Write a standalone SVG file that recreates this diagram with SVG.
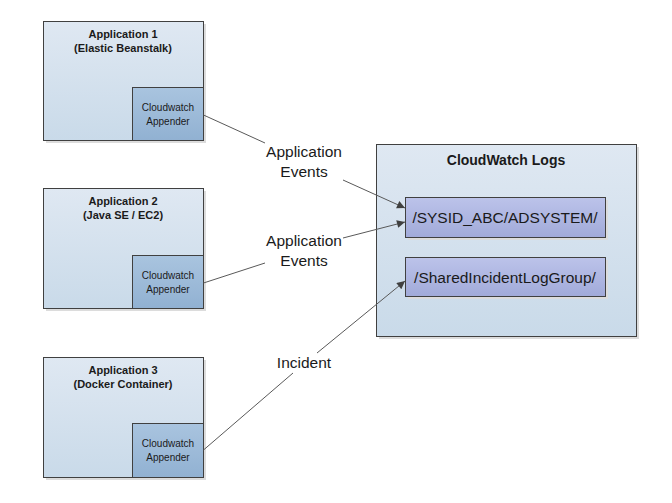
<svg xmlns="http://www.w3.org/2000/svg" width="672" height="503" viewBox="0 0 672 503">
<defs>
<linearGradient id="gApp" x1="0" y1="0" x2="0" y2="1"><stop offset="0" stop-color="#dfe8f2"/><stop offset="1" stop-color="#c9dae9"/></linearGradient>
<linearGradient id="gApd" x1="0" y1="0" x2="0" y2="1"><stop offset="0" stop-color="#a9c4df"/><stop offset="1" stop-color="#91b1d2"/></linearGradient>
<linearGradient id="gLog" x1="0" y1="0" x2="0" y2="1"><stop offset="0" stop-color="#bcc3ea"/><stop offset="1" stop-color="#a1aad9"/></linearGradient>
<marker id="arr" viewBox="0 0 10 10" refX="10" refY="5" markerWidth="10" markerHeight="8" markerUnits="userSpaceOnUse" orient="auto"><path d="M0,0 L10,5 L0,10 z" fill="#404040"/></marker>
</defs>
<style>
.box{stroke:#404040;stroke-width:1}
.shadow{fill:#dcdcdc}
.app{fill:url(#gApp)}
.apd{fill:url(#gApd)}
.log{fill:url(#gLog)}
.title{font-family:"Liberation Sans",Arial,sans-serif;font-weight:bold;font-size:11px;fill:#1a1a1a;text-anchor:middle}
.small{font-family:"Liberation Sans",Arial,sans-serif;font-size:10px;fill:#1a1a1a;text-anchor:middle}
.lbl{font-family:"Liberation Sans",Arial,sans-serif;font-size:15.5px;fill:#1a1a1a;text-anchor:middle}
.cw{font-family:"Liberation Sans",Arial,sans-serif;font-weight:bold;font-size:14px;fill:#1a1a1a;text-anchor:middle}
.conn{stroke:#595959;stroke-width:1;fill:none}
</style>
<rect width="672" height="503" fill="#ffffff"/>
<g id="app1">
<rect class="shadow" x="46" y="24" width="160" height="119"/>
<rect class="box app" x="43.5" y="21.5" width="160" height="119"/>
<rect class="box apd" x="132.5" y="87.5" width="71" height="53"/>
<text class="title" x="123" y="38">Application 1</text>
<text class="title" x="123" y="52">(Elastic Beanstalk)</text>
<text class="small" x="168" y="111">Cloudwatch</text>
<text class="small" x="168" y="125">Appender</text>
</g>
<g id="app2">
<rect class="shadow" x="46" y="191" width="160" height="120"/>
<rect class="box app" x="43.5" y="188.5" width="160" height="120"/>
<rect class="box apd" x="132.5" y="255.5" width="71" height="53"/>
<text class="title" x="123" y="205">Application 2</text>
<text class="title" x="123" y="219">(Java SE / EC2)</text>
<text class="small" x="168" y="279">Cloudwatch</text>
<text class="small" x="168" y="293">Appender</text>
</g>
<g id="app3">
<rect class="shadow" x="46" y="360" width="160" height="120"/>
<rect class="box app" x="43.5" y="357.5" width="160" height="120"/>
<rect class="box apd" x="132.5" y="423.5" width="71" height="54"/>
<text class="title" x="123" y="374">Application 3</text>
<text class="title" x="123" y="388">(Docker Container)</text>
<text class="small" x="168" y="447">Cloudwatch</text>
<text class="small" x="168" y="461">Appender</text>
</g>
<g id="cloudwatch">
<rect class="shadow" x="379" y="147" width="260" height="192"/>
<rect class="box app" x="376.5" y="144.5" width="260" height="192"/>
<text class="cw" x="506" y="165">CloudWatch Logs</text>
</g>
<g id="log1">
<rect class="shadow" x="408" y="200" width="200" height="40"/>
<rect class="box log" x="405.5" y="197.5" width="200" height="40"/>
<text class="lbl" x="505" y="223">/SYSID_ABC/ADSYSTEM/</text>
</g>
<g id="log2">
<rect class="shadow" x="408" y="260" width="200" height="39"/>
<rect class="box log" x="405.5" y="257.5" width="200" height="39"/>
<text class="lbl" x="505" y="283">/SharedIncidentLogGroup/</text>
</g>
<g id="connectors">
<line class="conn" x1="203.5" y1="115" x2="265" y2="143"/>
<line class="conn" x1="343" y1="180" x2="405" y2="208" marker-end="url(#arr)"/>
<text class="lbl" x="304" y="157">Application</text>
<text class="lbl" x="304" y="177">Events</text>
<line class="conn" x1="203.5" y1="283" x2="265" y2="263"/>
<line class="conn" x1="343" y1="238" x2="405" y2="222" marker-end="url(#arr)"/>
<text class="lbl" x="304" y="246">Application</text>
<text class="lbl" x="304" y="266">Events</text>
<line class="conn" x1="203.5" y1="450" x2="293" y2="373"/>
<line class="conn" x1="317" y1="353" x2="405" y2="281" marker-end="url(#arr)"/>
<text class="lbl" x="304" y="368">Incident</text>
</g>
</svg>
